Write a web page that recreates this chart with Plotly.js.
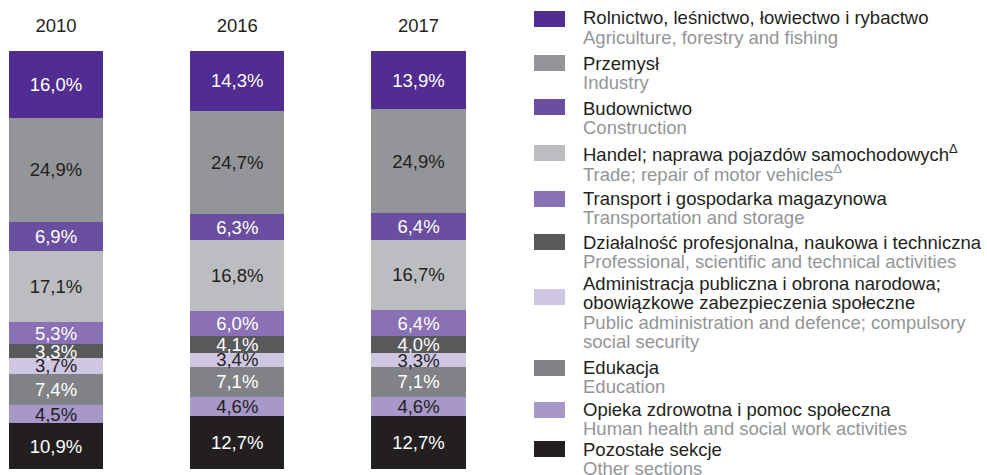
<!DOCTYPE html>
<html>
<head>
<meta charset="utf-8">
<script src="https://cdn.plot.ly/plotly-3.0.1.min.js"></script>
<style>html,body{margin:0;padding:0;background:#fff;}#chart{width:987px;height:475px;}</style>
</head>
<body>
<div id="chart"></div>
<script>
// ---- DATA ----
const years = ['2010', '2016', '2017'];

// sectors, listed top of bar -> bottom of bar (same order as legend)
const sectorPL = [
  ['Rolnictwo, leśnictwo, łowiectwo i rybactwo'],
  ['Przemysł'],
  ['Budownictwo'],
  ['Handel; naprawa pojazdów samochodowych<sup>Δ</sup>'],
  ['Transport i gospodarka magazynowa'],
  ['Działalność profesjonalna, naukowa i techniczna'],
  ['Administracja publiczna i obrona narodowa;', 'obowiązkowe zabezpieczenia społeczne'],
  ['Edukacja'],
  ['Opieka zdrowotna i pomoc społeczna'],
  ['Pozostałe sekcje']
];
const sectorEN = [
  ['Agriculture, forestry and fishing'],
  ['Industry'],
  ['Construction'],
  ['Trade; repair of motor vehicles<sup>Δ</sup>'],
  ['Transportation and storage'],
  ['Professional, scientific and technical activities'],
  ['Public administration and defence; compulsory', 'social security'],
  ['Education'],
  ['Human health and social work activities'],
  ['Other sections']
];

const rolnictwo      = [16.0, 14.3, 13.9];
const przemysl       = [24.9, 24.7, 24.9];
const budownictwo    = [6.9, 6.3, 6.4];
const handel         = [17.1, 16.8, 16.7];
const transport      = [5.3, 6.0, 6.4];
const dzialalnosc    = [3.3, 4.1, 4.0];
const administracja  = [3.7, 3.4, 3.3];
const edukacja       = [7.4, 7.1, 7.1];
const opieka         = [4.5, 4.6, 4.6];
const pozostale      = [10.9, 12.7, 12.7];

const seriesValues = [rolnictwo, przemysl, budownictwo, handel, transport,
                      dzialalnosc, administracja, edukacja, opieka, pozostale];

// ---- STYLE ----
const colors = ['#512D91', '#939598', '#6A4FA0', '#BCBDC0', '#8A70B4',
                '#58595B', '#CFC6E2', '#808285', '#A897C9', '#231F20'];
const textColors = ['#FFFFFF', '#231F20', '#FFFFFF', '#231F20', '#FFFFFF',
                    '#FFFFFF', '#231F20', '#FFFFFF', '#231F20', '#FFFFFF'];
const FONT = '"Liberation Sans", Arial, Helvetica, sans-serif';
const FS = 18.5;

const xIdx = years.map((_, i) => i);

// build traces bottom-up for stacking
const traces = [];
for (let k = seriesValues.length - 1; k >= 0; k--) {
  traces.push({
    type: 'bar',
    x: xIdx,
    y: seriesValues[k],
    width: 0.519,
    name: sectorPL[k].join(' '),
    marker: {color: colors[k], line: {width: 0}},
    texttemplate: '%{y:.1f}%',
    textposition: 'inside',
    insidetextanchor: 'middle',
    constraintext: 'none',
    textangle: 0,
    insidetextfont: {family: FONT, size: FS, color: textColors[k]},
    hoverinfo: 'none',
    showlegend: false
  });
}

// ---- custom legend (layout only) ----
const PLOT_TOP = 51, PLOT_H = 418, PLOT_W = 500;
const px2x = px => px / PLOT_W;
const px2y = py => (PLOT_TOP + PLOT_H - py) / PLOT_H;
const legendFirstLine = [18, 63, 108, 153, 198, 242, 283, 367, 409, 449];
const legendSquareMid = [19, 63, 107, 153, 199, 242, 297, 368, 410, 449];
const LINE_STEP = 19.5;

const shapes = [];
const annotations = [];
sectorPL.forEach((pl, k) => {
  const sy = legendSquareMid[k];
  shapes.push({
    type: 'rect', xref: 'paper', yref: 'paper',
    x0: px2x(534), x1: px2x(565), y0: px2y(sy + 8), y1: px2y(sy - 8),
    fillcolor: colors[k], line: {width: 0}
  });
  const lines = pl.map(t => ({t, c: '#231F20'})).concat(sectorEN[k].map(t => ({t, c: '#939598'})));
  lines.forEach((ln, j) => {
    annotations.push({
      xref: 'paper', yref: 'paper',
      x: px2x(581), y: px2y(legendFirstLine[k] + j * LINE_STEP),
      xanchor: 'left', yanchor: 'middle',
      text: ln.t, showarrow: false,
      font: {family: FONT, size: FS, color: ln.c}
    });
  });
});

const layout = {
  width: 987, height: 475,
  margin: {l: 0, r: 987 - PLOT_W, t: PLOT_TOP, b: 475 - PLOT_TOP - PLOT_H, pad: 0},
  paper_bgcolor: '#FFFFFF', plot_bgcolor: '#FFFFFF',
  barmode: 'stack',
  separators: ', ',
  showlegend: false,
  xaxis: {
    side: 'top',
    range: [-56 / 181.25, (PLOT_W - 56) / 181.25],
    tickvals: xIdx, ticktext: years,
    showgrid: false, zeroline: false, showline: false,
    ticks: 'outside', ticklen: 11, tickcolor: 'rgba(0,0,0,0)',
    tickfont: {family: FONT, size: FS, color: '#231F20'},
    fixedrange: true
  },
  yaxis: {
    range: [0, 100], visible: false, fixedrange: true
  },
  font: {family: FONT},
  shapes, annotations,
  hovermode: false
};

Plotly.newPlot('chart', traces, layout, {displayModeBar: false, staticPlot: true});
</script>
</body>
</html>
